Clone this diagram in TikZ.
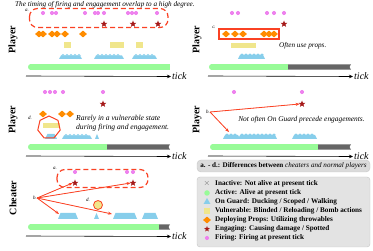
\documentclass[tikz,border=0pt]{standalone}
\usepackage{fontspec}
\setmainfont{Liberation Serif}
\usetikzlibrary{shapes.geometric,arrows.meta}
\definecolor{annot}{RGB}{250,66,36}
\definecolor{firec}{RGB}{238,130,238}
\definecolor{engc}{RGB}{165,25,25}
\definecolor{propc}{RGB}{255,140,0}
\definecolor{vulc}{RGB}{240,230,140}
\definecolor{guardc}{RGB}{135,206,235}
\definecolor{actc}{RGB}{152,251,152}
\definecolor{inactc}{RGB}{102,102,102}
\tikzset{
  firemk/.style={circle,fill=firec,inner sep=0,minimum size=4pt},
  fireplus/.style={draw=firec,line width=1.4pt},
  engmk/.style={star,star points=5,star point ratio=2.3,fill=engc,inner sep=0,minimum size=7pt},
  propmk/.style={diamond,fill=propc,inner sep=0,minimum width=8pt,minimum height=7pt},
  plbl/.style={font=\bfseries\fontsize{10}{10}\selectfont,rotate=90},
  ticklbl/.style={font=\itshape\fontsize{10}{10}\selectfont,anchor=west,inner sep=1pt},
  axisln/.style={line width=0.6pt,-{Stealth[length=4pt,width=3.5pt]}},
  note/.style={font=\itshape\fontsize{7.2}{8.5}\selectfont,inner sep=0},
  tiny/.style={font=\itshape\fontsize{5}{5}\selectfont,inner sep=0},
  redarr/.style={draw=annot,fill=annot,line width=0.8pt,-{Stealth[length=4pt,width=3pt]}},
  redline/.style={draw=annot,line width=1.2pt},
  legtxt/.style={font=\bfseries\fontsize{7.2}{8}\selectfont,anchor=west,inner sep=0},
}
\newcommand{\fmk}[2]{\node[firemk] (#1) at (#2) {};
  \draw[fireplus] ([xshift=-2.4pt]#1.center) -- ([xshift=2.4pt]#1.center)
                  ([yshift=-2.4pt]#1.center) -- ([yshift=2.4pt]#1.center);}
\newcommand{\guardjag}[4]{%
  \fill[guardc] (#1,#4) -- (#1+2,#3+1.5) -- (#2-2,#3+1.5) -- (#2,#4) -- cycle;
  \pgfmathsetmacro\gja{#1+4}\pgfmathsetmacro\gjb{#1+8}\pgfmathsetmacro\gjc{#2-3}
  \foreach \k in {\gja,\gjb,...,\gjc} \fill[guardc] (\k-2,#3+1.6) -- (\k,#3) -- (\k+2,#3+1.6) -- cycle;}
\newcommand{\guardtr}[4]{%
  \fill[guardc] (#1,#4) -- (#1+2.5,#3) -- (#2-2.5,#3) -- (#2,#4) -- cycle;}
\newcommand{\actbar}[4]{% x1 x2(green end) x3(gray end) y
  \ifdim #3pt>#2pt
  \fill[inactc] (#2,#4-2.7) -- (#3,#4-2.7) -- (#3-1.5,#4) -- (#3,#4+2.7) -- (#2,#4+2.7) -- cycle;
  \fi
  \draw[actc,line width=5.4pt,line cap=round] (#1+2.7,#4) -- (#2-2.7,#4);
  \fill[actc] (#2-3,#4-2.7) rectangle (#2,#4+2.7);}
\begin{document}
\begin{tikzpicture}[x=1pt,y=-1pt]
\useasboundingbox (0,0) rectangle (373,251);

%% ---------- Panel 1 ----------
\node[note,anchor=west] (title) at (15,4.5) {The timing of firing and engagement overlap to a high degree.};
\node[tiny] (la1) at (27,10) {a.};
\draw[redline,dashed,dash pattern=on 5pt off 3pt,rounded corners=8pt] (29.5,8.5) rectangle (168,27.5);
\foreach \n/\x in {1/43,2/52,3/56,4/85,5/95,6/98,7/104,8/128,9/132,10/136,11/157} {\fmk{pa\n}{\x,13}}
\foreach \n/\x in {1/104,2/133,3/158} {\node[engmk] (ea\n) at (\x,24) {};}
\foreach \n/\x in {1/39,2/43,3/52,4/57,5/65,6/83} {\node[propmk] (pra\n) at (\x,34) {};}
\fill[vulc] (64,42.5) rectangle (71,48);
\fill[vulc] (110,42.5) rectangle (124,48);
\fill[vulc] (136,42.5) rectangle (143,48);
\guardjag{59}{82}{54}{59}
\guardjag{94}{124}{54}{59}
\guardjag{132}{157}{54}{59}
\actbar{28}{170}{170}{67}
\coordinate (ax1) at (26,76);
\node[ticklbl] (tk1) at (171,76.5) {tick};
\draw[axisln] (ax1) -- (tk1.west);
\node[plbl] (pl1) at (13,40) {Player};

%% ---------- Panel 2 ----------
\node[tiny] (lc2) at (214,27) {c.};
\foreach \n/\x in {1/226,2/235,3/243,4/264,5/269,6/274} {\node[propmk] (prb\n) at (\x,34) {};}
\draw[draw=annot,line width=1.4pt] (219,29) rectangle (279,39.2);
\foreach \n/\x in {1/232,2/238,3/267,4/274,5/284} {\fmk{pb\n}{\x,13}}
\node[engmk] (eb1) at (284,24) {};
\fill[vulc] (231,43) rectangle (256,48);
\guardjag{238}{265}{53.5}{59}
\actbar{209}{288}{351}{67}
\coordinate (ax2) at (208,76);
\node[ticklbl] (tk2) at (353,76.5) {tick};
\draw[axisln] (ax2) -- (tk2.west);
\node[note,anchor=west] (nt2) at (279,46) {Often use props.};
\node[plbl] (pl2) at (197,40) {Player};

%% ---------- Panel 3 ----------
\foreach \n/\x in {1/45,2/50,3/55,4/63,5/103} {\fmk{pc\n}{\x,92}}
\node[engmk] (ec1) at (103,104) {};
\foreach \n/\x in {1/43,2/62,3/70} {\node[propmk] (prc\n) at (\x,114) {};}
\node[tiny] (ld3) at (30,118) {d.};
\fill[vulc] (43,123) rectangle (60,128.5);
\guardtr{45}{57}{134}{139}
\guardjag{62}{92}{134}{139}
\fill[guardc] (95,139) -- (97,134) -- (99,139) -- cycle;
\node[regular polygon,regular polygon sides=7,draw=annot,line width=1pt,minimum size=23pt,inner sep=0] (hep) at (49,127.5) {};
\node[note,anchor=north west,align=left,font=\itshape\fontsize{7.6}{9}\selectfont] (nt3) at (76,115) {Rarely in a vulnerable state\\during firing and engagement.};
\actbar{28}{107}{170}{147}
\coordinate (ax3) at (26,156);
\node[ticklbl] (tk3) at (171,156.5) {tick};
\draw[axisln] (ax3) -- (tk3.west);
\node[plbl] (pl3) at (13,120) {Player};

%% ---------- Panel 4 ----------
\foreach \n/\x in {1/234,2/302} {\fmk{pd\n}{\x,92}}
\node[engmk] (ed1) at (302,104) {};
\node[tiny] (lb4) at (208,112) {b.};
\guardjag{223}{240}{133.5}{139}
\guardjag{238}{277}{133.5}{139}
\guardjag{292}{317}{133.5}{139}
\coordinate (gd4) at (229,132);
\draw[redarr] (lb4.east) -- (ed1.west);
\draw[redarr] (lb4.east) -- (gd4);
\node[note,font=\itshape\fontsize{7.4}{8}\selectfont] (nt4) at (301.5,120) {Not often On Guard precede engagements.};
\actbar{210}{318}{351}{147}
\coordinate (ax4) at (208,156);
\node[ticklbl] (tk4) at (353,156.5) {tick};
\draw[axisln] (ax4) -- (tk4.west);
\node[plbl] (pl4) at (197,120) {Player};

%% ---------- Panel 5 ----------
\node[tiny] (la5) at (55,168) {a.};
\draw[redline,dashed,dash pattern=on 5pt off 3pt,rounded corners=8pt] (57,169.5) rectangle (148,187.5);
\foreach \n/\x in {1/75,2/127,3/133} {\fmk{pe\n}{\x,172}}
\foreach \n/\x in {1/75,2/133} {\node[engmk] (ee\n) at (\x,183) {};}
\node[tiny] (lb5) at (35,198) {b.};
\node[tiny] (ld5) at (88,200) {d.};
\node[circle,fill=vulc,draw=annot,line width=0.8pt,minimum size=9pt,inner sep=0] (vc5) at (98,205) {};
\guardtr{58}{78}{213}{219}
\fill[guardc] (94,219) -- (96.5,213) -- (99,219) -- cycle;
\guardtr{113}{137}{213}{219}
\guardtr{142}{158}{213}{219}
\coordinate (g5a) at (59,214);
\coordinate (g5b) at (112,214);
\draw[redarr] (lb5.east) -- (ee1.west);
\draw[redarr] (lb5.east) -- (ee2.west);
\draw[redarr] (lb5.east) -- (g5a);
\draw[redarr] (lb5.east) -- (g5b);
\actbar{28}{159}{170}{227}
\coordinate (ax5) at (26,236);
\node[ticklbl] (tk5) at (171,236.5) {tick};
\draw[axisln] (ax5) -- (tk5.west);
\node[plbl] (pl5) at (13,198) {Cheater};

%% ---------- Legend ----------
\node[draw=gray!45,fill=gray!28,rounded corners=4pt,minimum width=173pt,minimum height=12pt,inner sep=0,
      font=\bfseries\fontsize{7.1}{8}\selectfont] (lghead) at (283.5,166)
      {a. - d.: Differences between \textit{\mdseries cheaters and normal players}};
\node[draw=gray!45,fill=gray!22,rounded corners=3pt,minimum width=173pt,minimum height=70pt,inner sep=0] (lgbox) at (283.5,212) {};
\node[inactc,font=\fontsize{8}{8}\selectfont,inner sep=0] (i1) at (207,184) {$\times$};
\node[circle,fill=actc,inner sep=0,minimum size=5.5pt] (i2) at (207,193) {};
\node[isosceles triangle,isosceles triangle apex angle=60,shape border rotate=90,fill=guardc,inner sep=0,minimum size=6pt] (i3) at (207,202) {};
\node[fill=vulc,inner sep=0,minimum size=5.5pt] (i4) at (207,211) {};
\node[propmk] (i5) at (207,220) {};
\node[engmk,minimum size=6pt] (i6) at (207,229) {};
\fmk{i7}{207,238}
\node[legtxt] (t1) at (215,184) {Inactive: Not alive at present tick};
\node[legtxt] (t2) at (215,193) {Active: Alive at present tick};
\node[legtxt] (t3) at (215,202) {On Guard: Ducking / Scoped / Walking};
\node[legtxt] (t4) at (215,211) {Vulnerable: Blinded / Reloading / Bomb actions};
\node[legtxt] (t5) at (215,220) {Deploying Props: Utilizing throwables};
\node[legtxt] (t6) at (215,229) {Engaging: Causing damage / Spotted};
\node[legtxt] (t7) at (215,238) {Firing: Firing at present tick};
\end{tikzpicture}
\end{document}
